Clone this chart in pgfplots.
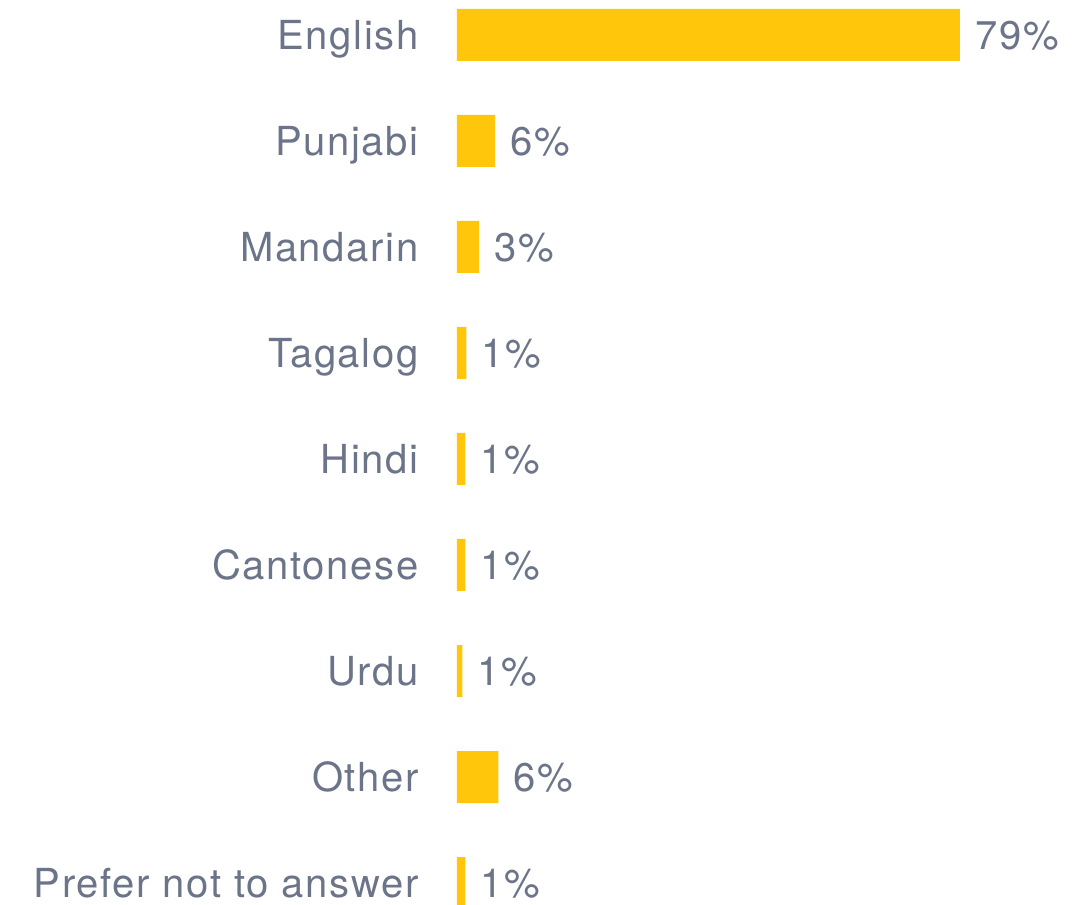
\documentclass[border=0pt]{standalone}
\usepackage{fontspec}
\setmainfont{TeX Gyre Heros}[LetterSpace=4.2]
\usepackage{pgfplots}
\pgfplotsset{compat=1.18}
\definecolor{Bar}{HTML}{FFC60B}
\definecolor{Ink}{HTML}{6B7488}
\begin{document}
\begin{tikzpicture}
\begin{axis}[
  scale only axis, width=311pt, height=452.5pt,
  xbar, bar width=26pt, bar shift=0pt,
  xmin=0, xmax=97.69, ymin=-0.330, ymax=8.2075, y dir=reverse,
  axis line style={draw=none}, tick style={draw=none}, major tick length=0pt,
  xtick=\empty, ytick={0,1,2,3,4,5,6,7,8},
  yticklabels={English,Punjabi,Mandarin,Tagalog,Hindi,Cantonese,Urdu,Other,Prefer not to answer},
  yticklabel style={font=\fontsize{20}{24}\selectfont, text=Ink, inner sep=0pt, anchor=base east, xshift=-19pt, yshift=-7.2pt},
  nodes near coords, point meta=explicit symbolic,
  every node near coord/.append style={font=\fontsize{20}{24}\selectfont, text=Ink, inner sep=0pt, anchor=base west, xshift=7.5pt, yshift=-7.2pt},
]
\addplot+[draw=none, fill=Bar] coordinates {
  (79,0) [79\%]
  (5.97,1) [6\%]
  (3.46,2) [3\%]
  (1.46,3) [1\%]
  (1.30,4) [1\%]
  (1.30,5) [1\%]
  (0.83,6) [1\%]
  (6.50,7) [6\%]
  (1.30,8) [1\%]
};
\coordinate (bl) at (rel axis cs:0,1);
\coordinate (tr) at (rel axis cs:1,0);
\end{axis}
\pgfresetboundingbox
\path[use as bounding box] (bl) ++(-228.5pt,0) rectangle (tr);
\end{tikzpicture}
\end{document}
